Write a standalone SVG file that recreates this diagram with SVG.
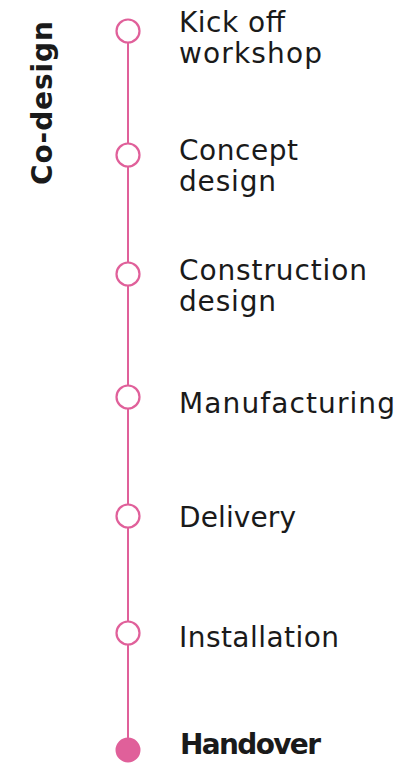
<svg xmlns="http://www.w3.org/2000/svg" width="407" height="764" viewBox="0 0 407 764">
<style>
.lbl{font-family:"DejaVu Sans",sans-serif;font-size:28px;fill:#1a1a1a}
.b{font-weight:bold}
.ring{fill:#fff;stroke:#e0609a;stroke-width:2.2}
.dot{fill:#e0609a;stroke:#e0609a;stroke-width:2}
.ln{stroke:#e0609a;stroke-width:2;fill:none}
</style>
<rect width="407" height="764" fill="#fff"/>
<g id="connectors">
<line class="ln" x1="128" y1="31" x2="128" y2="750"/>
</g>
<text id="title" class="lbl b" font-size="30" text-anchor="middle" transform="translate(52,103) rotate(-90)" textLength="164">Co-design</text>
<g id="n1"><circle class="ring" cx="128" cy="31" r="11.5"/>
<text class="lbl" x="179" y="32" textLength="106">Kick off</text>
<text class="lbl" x="179" y="63" textLength="143">workshop</text></g>
<g id="n2"><circle class="ring" cx="128" cy="155" r="11.5"/>
<text class="lbl" x="179" y="160" textLength="119">Concept</text>
<text class="lbl" x="179" y="191" textLength="97">design</text></g>
<g id="n3"><circle class="ring" cx="128" cy="274" r="11.5"/>
<text class="lbl" x="179" y="280" textLength="188">Construction</text>
<text class="lbl" x="179" y="311" textLength="97">design</text></g>
<g id="n4"><circle class="ring" cx="128" cy="397" r="11.5"/>
<text class="lbl" x="179" y="413" textLength="216">Manufacturing</text></g>
<g id="n5"><circle class="ring" cx="128" cy="516" r="11.5"/>
<text class="lbl" x="179" y="527" textLength="117">Delivery</text></g>
<g id="n6"><circle class="ring" cx="128" cy="633" r="11.5"/>
<text class="lbl" x="179" y="647" textLength="160">Installation</text></g>
<g id="n7"><circle class="dot" cx="128" cy="750" r="11.5"/>
<text class="lbl b" x="180" y="754" textLength="141">Handover</text></g>
</svg>
